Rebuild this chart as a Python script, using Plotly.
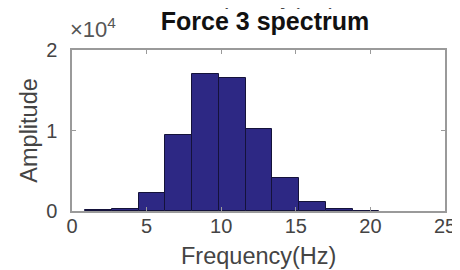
import plotly.graph_objects as go

# Data (histogram of Force 3 spectrum)
bin_centers = [1.77, 3.56, 5.36, 7.15, 8.95, 10.74, 12.54, 14.33, 16.13, 17.92, 19.71]
amplitudes = [120, 250, 2190, 9390, 17060, 16560, 10140, 4140, 1160, 250, 60]
bin_width = 1.794

x_ticks = [0, 5, 10, 15, 20, 25]
y_ticks = [0, 10000, 20000]
y_tick_labels = ["0", "1", "2"]

W, H = 460, 270
L, R, T, B = 64, 13, 42, 67
FONT = "Liberation Sans, Arial, sans-serif"
AX = "#9a9a9a"
TICK_TXT = "#444444"

fig = go.Figure(
    go.Bar(
        x=bin_centers,
        y=amplitudes,
        width=[bin_width] * len(bin_centers),
        marker=dict(color="#2d2884", line=dict(color="#14123a", width=1)),
    )
)

fig.update_layout(
    width=W,
    height=H,
    margin=dict(l=L, r=R, t=T, b=B),
    paper_bgcolor="white",
    plot_bgcolor="white",
    showlegend=False,
    bargap=0,
    font=dict(family=FONT, color=TICK_TXT),
    title=dict(
        text="<b>Force 3 spectrum</b>",
        x=257 / W,
        xanchor="center",
        y=1 - 13 / H,
        yanchor="middle",
        yref="container",
        font=dict(family=FONT, size=25, color="#111111"),
    ),
)

fig.update_xaxes(
    range=[0, 25],
    tickvals=x_ticks,
    ticktext=[str(v) for v in x_ticks],
    showgrid=False,
    zeroline=False,
    showline=True,
    linecolor=AX,
    linewidth=1.5,
    mirror="ticks",
    ticks="inside",
    ticklen=4,
    tickcolor=AX,
    ticklabelstandoff=-4,
    tickfont=dict(family=FONT, size=20, color=TICK_TXT),
)
fig.update_yaxes(
    range=[0, 20000],
    tickvals=y_ticks,
    ticktext=y_tick_labels,
    showgrid=False,
    zeroline=False,
    showline=True,
    linecolor=AX,
    linewidth=1.5,
    mirror="ticks",
    ticks="inside",
    ticklen=4,
    tickcolor=AX,
    ticklabelstandoff=9,
    tickfont=dict(family=FONT, size=20, color=TICK_TXT),
)

pw = W - L - R
ph = H - T - B


def px_x(px):
    return (px - L) / pw


def px_y(py):
    return (H - B - py) / ph


annotations = [
    # x label
    dict(text="Frequency(Hz)", x=px_x(256), y=px_y(248), xref="paper", yref="paper",
         xanchor="center", yanchor="middle", showarrow=False,
         font=dict(family=FONT, size=23.5, color=TICK_TXT)),
    # y label
    dict(text="Amplitude", x=px_x(19), y=px_y(122.5), xref="paper", yref="paper",
         xanchor="center", yanchor="middle", textangle=-90, showarrow=False,
         font=dict(family=FONT, size=23.5, color=TICK_TXT)),
    # exponent
    dict(text="×10<sup>4</sup>", x=px_x(60), y=px_y(20), xref="paper", yref="paper",
         xanchor="left", yanchor="middle", showarrow=False,
         font=dict(family=FONT, size=22, color="#555555")),
    # clipped label of previous subplot at the very top
    dict(text="Frequency(Hz)", x=px_x(256), y=px_y(-12), xref="paper", yref="paper",
         xanchor="center", yanchor="middle", showarrow=False,
         font=dict(family=FONT, size=23.5, color=TICK_TXT)),
]
fig.update_layout(annotations=annotations)

fig.write_html("out.html")
